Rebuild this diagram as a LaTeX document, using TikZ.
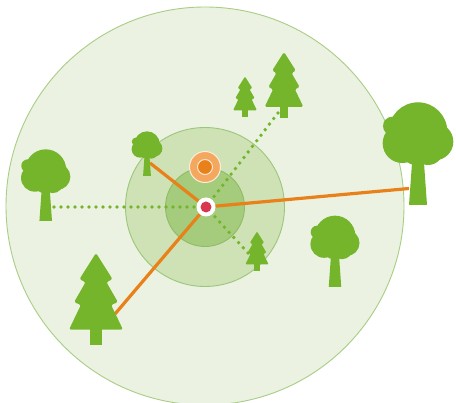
\documentclass[tikz,border=0pt]{standalone}
\definecolor{outerfill}{HTML}{EBF2E1}
\definecolor{outeredge}{HTML}{A9CD85}
\definecolor{midfill}{HTML}{CFE2B6}
\definecolor{midedge}{HTML}{9CC67A}
\definecolor{innerfill}{HTML}{A5CB7C}
\definecolor{inneredge}{HTML}{8FBC66}
\definecolor{treegreen}{HTML}{74B52B}
\definecolor{linkorange}{HTML}{E9811B}
\definecolor{halo}{HTML}{F4A75E}
\definecolor{hubred}{HTML}{D8384F}
\tikzset{
  ring/.style={circle,draw=#1,line width=0.9pt,inner sep=0pt},
  hubnode/.style={circle,fill=white,inner sep=0pt,minimum size=19pt},
  solidlink/.style={draw=linkorange,line width=3.2pt},
  dotlink/.style={draw=treegreen,line width=3.8pt,line cap=round,dash pattern=on 0pt off 7pt},
  foliage/.style={fill=treegreen,draw=none}
}
\newcommand{\roundtree}[3]{%
  \begin{scope}[shift={(#1,#2)},x=#3pt,y=-#3pt]
    \fill[foliage] (-27,0) -- (-17,-140) -- (17,-140) -- (27,0) -- cycle;
    \fill[foliage] (0,-220) circle [radius=#3*88pt];
    \fill[foliage] (-77,-237) circle [radius=#3*28pt];
    \fill[foliage] (-47,-185) circle [radius=#3*59pt];
    \fill[foliage] (50,-190) circle [radius=#3*56pt];
    \fill[foliage] (-5,-168) circle [radius=#3*48pt];
    \fill[foliage] (30,-167) circle [radius=#3*47pt];
  \end{scope}}
\newcommand{\pinetree}[3]{%
  \pgfmathsetlengthmacro{\cornerlen}{#3*7pt}%
  \begin{scope}[shift={(#1,#2)},x=#3pt,y=-#3pt]
    \fill[foliage] (-18,0) -- (-18,-50) -- (18,-50) -- (18,0) -- cycle;
    \fill[foliage,rounded corners=\cornerlen]
      (0,-276) -- (50,-197) -- (31,-189) -- (66,-128) -- (45,-121)
      -- (81,-46) -- (-81,-46) -- (-45,-121) -- (-66,-128) -- (-31,-189)
      -- (-50,-197) -- cycle;
  \end{scope}}
\begin{document}
\begin{tikzpicture}[x=1pt,y=-1pt]
  \useasboundingbox (0,0) rectangle (456,403);
  \clip (0,0) rectangle (456,403);
  \fill[white] (0,0) rectangle (456,403);
  \node[ring=outeredge,fill=outerfill,minimum size=398pt] (outer) at (205,206) {};
  \node[ring=midedge,fill=midfill,minimum size=159pt] (mid) at (205,207) {};
  \node[ring=inneredge,fill=innerfill,minimum size=79pt] (inner) at (205,207) {};
  \node[circle,fill=halo,draw=white!80!halo,line width=1pt,inner sep=0pt,minimum size=31pt] (halonode) at (205,167) {};
  \node[circle,fill=linkorange,draw=white!70!halo,line width=1pt,inner sep=0pt,minimum size=15pt] (core) at (205,167) {};
  \node[hubnode] (hub) at (206,207) {};
  \coordinate (endW) at (54,207);
  \coordinate (endNE) at (278,113);
  \coordinate (endSE) at (248,253);
  \coordinate (endE) at (409,188.5);
  \coordinate (endNW) at (150,163);
  \coordinate (endSW) at (115,314);
  \draw[dotlink] (endW) -- (hub);
  \draw[dotlink] (endNE) -- (hub);
  \draw[dotlink] (endSE) -- (hub);
  \draw[solidlink] (endE) -- (hub);
  \draw[solidlink] (endNW) -- (hub);
  \draw[solidlink] (endSW) -- (hub);
  \node[circle,fill=hubred,inner sep=0pt,minimum size=11pt] (hubcore) at (206,207) {};
  \roundtree{418}{205}{0.3333}
  \roundtree{335}{287}{0.2316}
  \roundtree{45.7}{221}{0.2327}
  \roundtree{147}{176}{0.145}
  \pinetree{96}{345}{0.3333}
  \pinetree{284}{118}{0.2393}
  \pinetree{245}{117}{0.1464}
  \pinetree{257}{271}{0.1429}
\end{tikzpicture}
\end{document}
